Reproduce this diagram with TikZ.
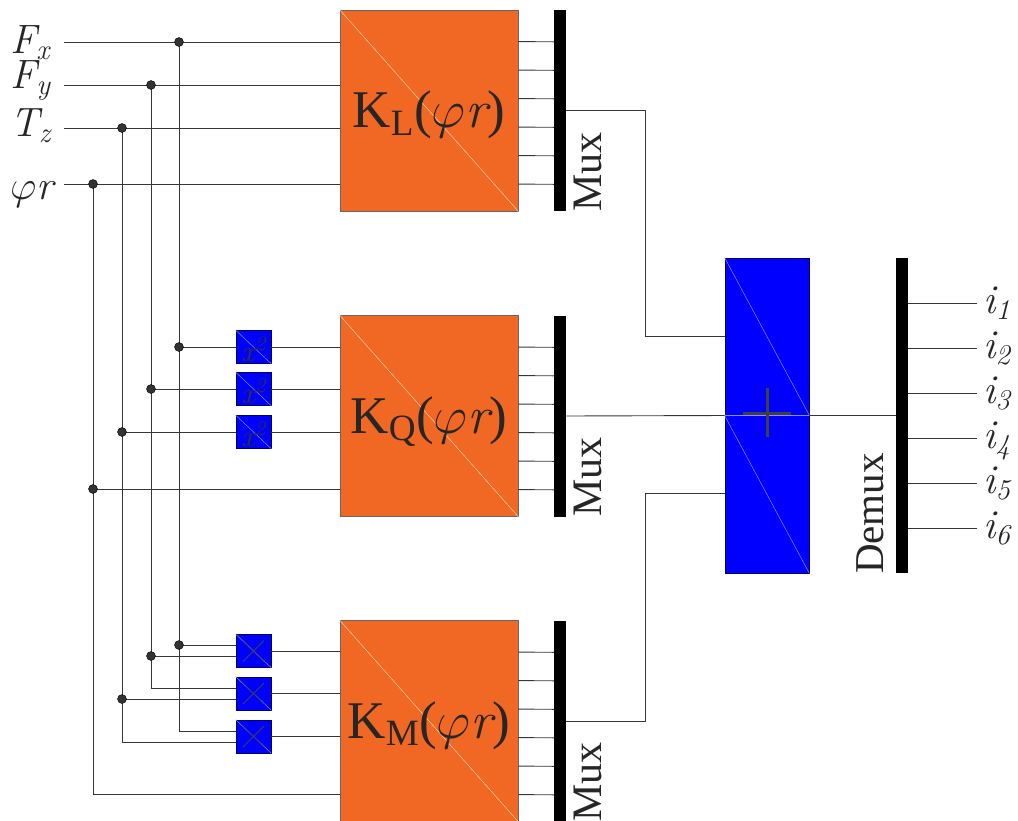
\RequirePackage{fix-cm}
\documentclass[tikz,border=0pt]{standalone}
\usepackage{fontspec}
\setmainfont{LiberationSerif}[Extension=.ttf, UprightFont=*-Regular, ItalicFont=*-Italic, BoldFont=*-Bold, BoldItalicFont=*-BoldItalic]
\usepackage{amsmath}
\usetikzlibrary{calc}
\newcommand{\lmit}[1]{\text{\fontfamily{lmr}\itshape #1}}
\definecolor{korange}{RGB}{241,103,36}
\definecolor{kblue}{RGB}{0,0,255}
\definecolor{wirec}{RGB}{55,55,55}
\begin{document}
\begin{tikzpicture}[x=1pt,y=-1pt,
  wire/.style={draw=wirec, line width=0.9pt},
  kbox/.style={draw=black!60, fill=korange, minimum width=178pt, minimum height=201pt, inner sep=0pt, line width=0.8pt},
  muxbar/.style={fill=black, minimum width=12pt, minimum height=201pt, inner sep=0pt},
  sbox/.style={draw=blue!35!black, fill=kblue, minimum width=35pt, minimum height=33pt, inner sep=0pt, line width=0.7pt},
  jdot/.style={circle, fill=black!80, draw=black, inner sep=0pt, minimum size=9pt},
  odiag/.style={draw=orange!35!white, line width=0.5pt},
  bdiag/.style={draw=blue!45!white, line width=0.5pt},
  lbl/.style={font=\fontsize{41}{48}\selectfont, text=black!85, inner sep=0pt},
  ktext/.style={font=\fontsize{53}{60}\selectfont, text=black!85, inner sep=0pt, anchor=base},
  muxlbl/.style={font=\fontsize{42}{50}\selectfont, text=black!85, inner sep=0pt, rotate=90},
  sqtext/.style={font=\fontsize{30}{34}\selectfont, text=black!80, inner sep=0pt, anchor=base}
]
\useasboundingbox (0,0) rectangle (1018,820);

% main blocks
\node[kbox] (KL) at (429,110.5) {};
\node[kbox] (KQ) at (429,416) {};
\node[kbox] (KM) at (429,721) {};
\foreach \b in {KL,KQ,KM}{\draw[odiag] (\b.north west) -- (\b.south east);}
\node[ktext] (tL) at ([yshift=-17pt]KL.center) {K$_{\text{L}}$($\varphi\lmit{r}$)};
\node[ktext] (tQ) at ([yshift=-17pt]KQ.center) {K$_{\text{Q}}$($\varphi\lmit{r}$)};
\node[ktext] (tM) at ([yshift=-17pt]KM.center) {K$_{\text{M}}$($\varphi\lmit{r}$)};

\node[muxbar] (muxL) at (560,110.5) {};
\node[muxbar] (muxQ) at (560,416) {};
\node[muxbar] (muxM) at (560,721) {};
\node[muxlbl, anchor=north west] (mlL) at (574,212) {Mux};
\node[muxlbl, anchor=north west] (mlQ) at (574,517) {Mux};
\node[muxlbl, anchor=north west] (mlM) at (574,822) {Mux};

% small blocks
\node[sbox] (sq1) at (253.5,347) {};
\node[sbox] (sq2) at (253.5,389) {};
\node[sbox] (sq3) at (253.5,432) {};
\node[sbox] (pr1) at (253.5,651) {};
\node[sbox] (pr2) at (253.5,693.5) {};
\node[sbox] (pr3) at (253.5,736.5) {};
\foreach \b in {sq1,sq2,sq3,pr1,pr2,pr3}{\draw[bdiag] (\b.north west) -- (\b.south east);}
\foreach \b in {sq1,sq2,sq3}{\node[sqtext] at ([yshift=2pt]\b.south) {$\lmit{x}^{\lmit{2}}$};}
\foreach \b in {pr1,pr2,pr3}{
  \draw[black!75, line width=0.8pt] ([shift={(-10.5pt,-10.5pt)}]\b.center) -- ([shift={(10.5pt,10.5pt)}]\b.center);
  \draw[black!75, line width=0.8pt] ([shift={(-10.5pt,10.5pt)}]\b.center) -- ([shift={(10.5pt,-10.5pt)}]\b.center);
}

% sum and demux
\node[draw=blue!35!black, fill=kblue, minimum width=84pt, minimum height=315pt, inner sep=0pt, line width=0.8pt] (sum) at (767,415.5) {};
\draw[bdiag] (sum.north west) -- (sum.east);
\draw[bdiag] (sum.west) -- (sum.south east);
\draw[bdiag] (sum.west) -- (sum.east);
\draw[black!75, line width=3pt] ([shift={(-24pt,2.5pt)}]sum.center) -- ([shift={(24pt,2.5pt)}]sum.center);
\draw[black!75, line width=3pt] ([shift={(0pt,27.5pt)}]sum.center) -- ([shift={(0pt,-21.5pt)}]sum.center);
\node[fill=black, minimum width=12pt, minimum height=315pt, inner sep=0pt] (demux) at (902,415.5) {};
\node[muxlbl, anchor=south west, font=\fontsize{41}{48}\selectfont] (dml) at (884,574) {Demux};

% input labels
\node[lbl, anchor=base west] (Fx) at (10,53) {$\lmit{F}_{\lmit{x}}$};
\node[lbl, anchor=base west] (Fy) at (10,88) {$\lmit{F}_{\lmit{y}}$};
\node[lbl, anchor=base west] (Tz) at (10,136) {$\lmit{T}_{\lmit{z}}$};
\node[lbl, anchor=base west] (ph) at (10,199) {$\varphi\lmit{r}$};

\coordinate (a1) at (64,42);
\coordinate (a2) at (64,85);
\coordinate (a3) at (64,128);
\coordinate (a4) at (64,184);
\foreach \a in {a1,a2,a3,a4}{\draw[wire] (\a) -- (\a -| KL.west);}

% junctions and vertical buses
\coordinate (j1) at (179,42);
\coordinate (j2) at (151,85);
\coordinate (j3) at (122,128);
\coordinate (j4) at (93,184);
\coordinate (c1) at (179,731);
\coordinate (c2) at (151,688);
\coordinate (c3) at (122,742);
\coordinate (c4) at (93,794);
\draw[wire] (j1) -- (c1) -- (c1 -| pr3.west);
\draw[wire] (j2) -- (c2) -- (c2 -| pr2.west);
\draw[wire] (j3) -- (c3) -- (c3 -| pr3.west);
\draw[wire] (j4) -- (c4) -- (c4 -| KM.west);

\coordinate (d1) at (179,347);
\coordinate (d2) at (151,389);
\coordinate (d3) at (122,432);
\coordinate (d4) at (93,489);
\draw[wire] (d1) -- (sq1.west);
\draw[wire] (d2) -- (sq2.west);
\draw[wire] (d3) -- (sq3.west);
\draw[wire] (d4) -- (d4 -| KQ.west);
\foreach \b in {sq1,sq2,sq3,pr1,pr2,pr3}{\draw[wire] (\b.east) -- (\b.east -| KQ.west);}

\coordinate (e1) at (179,645);
\coordinate (e2) at (151,656);
\coordinate (e3) at (122,699);
\draw[wire] (e1) -- (e1 -| pr1.west);
\draw[wire] (e2) -- (e2 -| pr1.west);
\draw[wire] (e3) -- (e3 -| pr2.west);

\foreach \p in {j1,j2,j3,j4,d1,d2,d3,d4,e1,e2,e3}{\node[jdot] at (\p) {};}

% block to mux connectors
\foreach \k/\m in {KL/muxL,KQ/muxQ,KM/muxM}{
  \foreach \o in {32,60.5,89,117.5,146,174.5}{
    \draw[wire] ([yshift=-\o pt]\k.north east) -- ([yshift=-\o pt]\m.north west);
  }
}

% mux to sum
\coordinate (bx) at (645,0);
\draw[wire] (muxL.east) -- (muxL.east -| bx) |- ([yshift=-79pt]sum.north west);
\draw[wire] (muxQ.east) -- (sum.west);
\draw[wire] (muxM.east) -- (muxM.east -| bx) |- ([yshift=-236pt]sum.north west);
\draw[wire] (sum.east) -- (demux.west);

% demux outputs
\foreach \k/\y in {1/303,2/348,3/393,4/438,5/483,6/528}{
  \coordinate (o\k) at (977,\y);
  \draw[wire] (demux.east |- o\k) -- (o\k);
  \node[lbl, anchor=base west] (i\k) at (983,\y+10) {$\lmit{i}_{\lmit{\k}}$};
}
\end{tikzpicture}
\end{document}
